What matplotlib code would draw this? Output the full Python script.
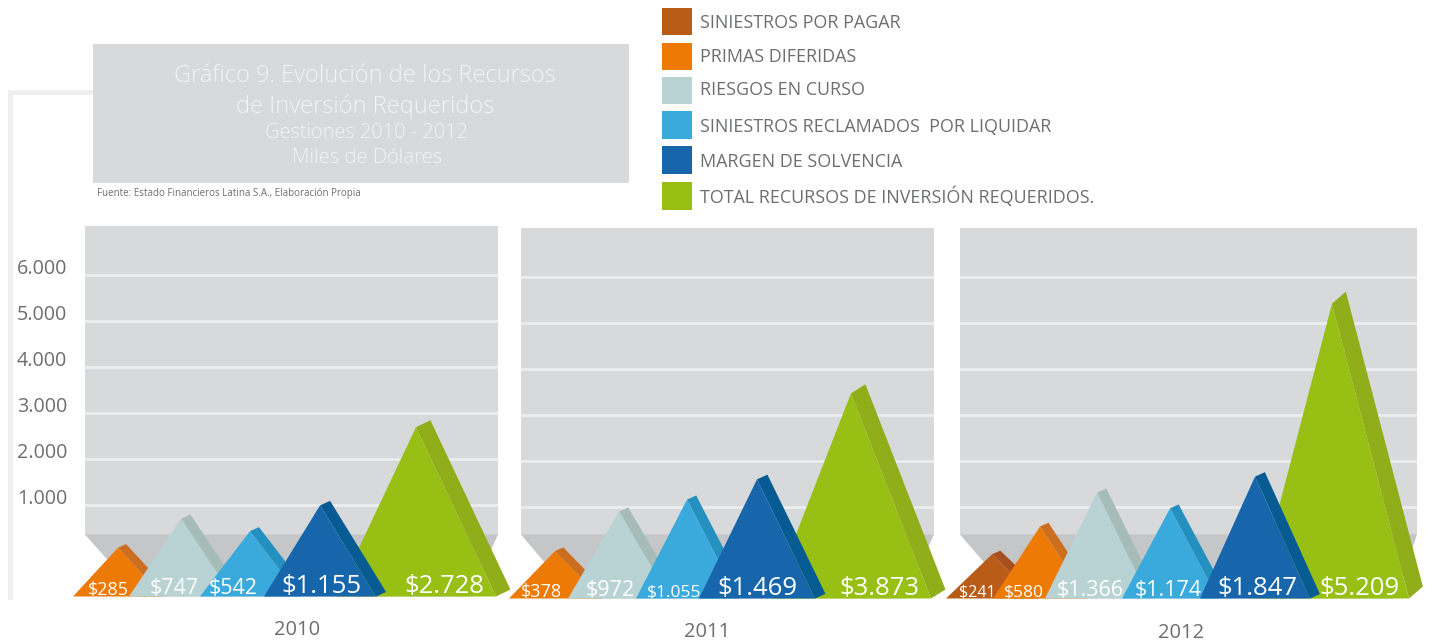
import matplotlib
matplotlib.use("Agg")
import matplotlib.pyplot as plt
from matplotlib.patches import Polygon, Rectangle

plt.rcParams['font.family'] = ['Open Sans', 'DejaVu Sans']

W, H = 1429, 644

# ── DATOS ─────────────────────────────────────────────────────────────
YEARS = ["2010", "2011", "2012"]
SERIES = ["SINIESTROS POR PAGAR", "PRIMAS DIFERIDAS", "RIESGOS EN CURSO",
          "SINIESTROS RECLAMADOS  POR LIQUIDAR", "MARGEN DE SOLVENCIA",
          "TOTAL RECURSOS DE INVERSIÓN REQUERIDOS."]
AXIS_TICKS = [1000, 2000, 3000, 4000, 5000, 6000]
AXIS_LABELS = ["1.000", "2.000", "3.000", "4.000", "5.000", "6.000"]

# serie de cada pico, etiqueta y altura leida sobre la escala del eje
SERIE_2010 = [1, 2, 3, 4, 5]
LABELS_2010 = ["$285", "$747", "$542", "$1.155", "$2.728"]
PEAKS_2010 = [60, 690, 420, 980, 2680]
SERIE_2011 = [1, 2, 3, 4, 5]
LABELS_2011 = ["$378", "$972", "$1.055", "$1.469", "$3.873"]
PEAKS_2011 = [30, 890, 1150, 1590, 3460]
SERIE_2012 = [0, 1, 2, 3, 4, 5]
LABELS_2012 = ["$241", "$580", "$1.366", "$1.174", "$1.847", "$5.209"]
PEAKS_2012 = [-40, 565, 1300, 960, 1650, 5410]

# ── ESTILO Y POSICIONES (pixeles) ─────────────────────────────────────
FRONT = ["#b85c17", "#ec7a05", "#b9d3d4", "#3aa9dc", "#1766ac", "#97bf14"]
SIDE = ["#a64f1f", "#cc6e20", "#a5bcb9", "#2390bf", "#065b92", "#90ad1a"]
WALL = "#d8d9db"
FLOOR = "#c5c6c8"
GRID = "#eceded"
GREY_TEXT = "#6d6e70"
TITLE_COLOR = "#f3f3f4"
PX = 0.046  # pixeles por unidad del eje

PANELS = [
    dict(box=(85, 498, 226), y0=550.5, floor=(140, 470), year_xy=(297, 630), total_dy=7,
         series=SERIE_2010, labels=LABELS_2010, peaks=PEAKS_2010,
         apex=[118, 181, 250, 320, 416], half=[45, 52, 50, 56, 80],
         text_x=[108, 174, 233, 321, 444], sizes=[13, 15.5, 15.5, 18.5, 18.5]),
    dict(box=(521, 934, 228), y0=552.5, floor=(575, 905), year_xy=(707, 632), total_dy=9,
         series=SERIE_2011, labels=LABELS_2011, peaks=PEAKS_2011,
         apex=[555, 619, 687, 757, 851], half=[46, 51, 51, 58, 80],
         text_x=[541, 610, 674, 757, 879], sizes=[13, 15.5, 12.5, 18.5, 18.5]),
    dict(box=(960, 1417, 228), y0=552.5, floor=(1015, 1395), year_xy=(1181, 633), total_dy=12,
         series=SERIE_2012, labels=LABELS_2012, peaks=PEAKS_2012,
         apex=[992, 1040, 1097, 1170, 1255, 1332], half=[46, 47, 52, 48, 55, 77],
         text_x=[977, 1024, 1090, 1168, 1257, 1359], sizes=[11.5, 12.5, 15.5, 15.5, 18.5, 18.5]),
]
WALL_BOTTOM = 534.5
BASE = -1000

LEGEND_BOX = [(8, 35), (43, 70), (77, 104), (111, 139), (146, 174), (182, 210)]
LEGEND_TEXT_Y = [23, 57, 90, 127, 162, 197]

fig = plt.figure(figsize=(W / 100, H / 100), dpi=100, facecolor="white")

# ── CAPA DE FONDO: marco, titulo y leyenda ────────────────────────────
bg = fig.add_axes([0, 0, 1, 1])
bg.set_xlim(0, W)
bg.set_ylim(H, 0)
bg.axis("off")

bg.add_patch(Rectangle((8, 90), 5, 510, color="#efefef", lw=0))
bg.add_patch(Rectangle((8, 90), 87, 5, color="#efefef", lw=0))
bg.add_patch(Rectangle((93, 44), 536, 139, color=WALL, lw=0))

bg.text(365, 76, "Gráfico 9. Evolución de los Recursos", color=TITLE_COLOR, fontsize=17, ha="center", va="center", fontweight="light")
bg.text(365, 107, "de Inversión Requeridos", color=TITLE_COLOR, fontsize=17, ha="center", va="center", fontweight="light")
bg.text(367, 133, "Gestiones 2010 - 2012", color=TITLE_COLOR, fontsize=14.4, ha="center", va="center", fontweight="light")
bg.text(367, 158, "Miles de Dólares", color=TITLE_COLOR, fontsize=14.6, ha="center", va="center", fontweight="light")
bg.text(97, 193, "Fuente: Estado Financieros Latina S.A., Elaboración Propia", color=GREY_TEXT, fontsize=7.05, va="center")

for name, color, (y1, y2), ty in zip(SERIES, FRONT, LEGEND_BOX, LEGEND_TEXT_Y):
    bg.add_patch(Rectangle((662, y1), 30, y2 - y1, color=color, lw=0))
    bg.text(700, ty, name, color=GREY_TEXT, fontsize=12.9, va="center")

# ── PANELES ───────────────────────────────────────────────────────────
for n, p in enumerate(PANELS):
    left, right, top = p["box"]
    y0 = p["y0"]
    ax = fig.add_axes([left / W, 1 - WALL_BOTTOM / H, (right - left) / W, (WALL_BOTTOM - top) / H])
    ax.set_facecolor(WALL)
    ax.set_xlim(left, right)
    ax.set_ylim((y0 - WALL_BOTTOM) / PX, (y0 - top) / PX)
    for s in ax.spines.values():
        s.set_visible(False)
    ax.tick_params(left=False, bottom=False, labelleft=False, labelbottom=False)
    ax.set_yticks(AXIS_TICKS)
    ax.grid(axis="y", color=GRID, lw=2)
    ax.set_axisbelow(True)

    # suelo
    ax.add_patch(Polygon([(left, ax.get_ylim()[0]), (right, ax.get_ylim()[0]),
                          (p["floor"][1], BASE), (p["floor"][0], BASE)],
                         color=FLOOR, lw=0, clip_on=False, zorder=1))

    # el total va detras de los demas, el resto de izquierda a derecha
    order = [len(p["series"]) - 1] + list(range(len(p["series"]) - 1))
    for z, i in enumerate(order):
        cx, hw, peak = p["apex"][i], p["half"][i], p["peaks"][i]
        s = p["series"][i]
        dx = 0.18 * hw
        dy = (p["total_dy"] if s == 5 else 0.45 * dx) / PX
        ax.add_patch(Polygon([(cx, peak), (cx + dx, peak + dy), (cx + hw + dx, BASE + dy), (cx + hw, BASE)],
                             color=SIDE[s], lw=0, clip_on=False, zorder=2 + z))
        ax.add_patch(Polygon([(cx - hw, BASE), (cx, peak), (cx + hw, BASE)],
                             color=FRONT[s], lw=0, clip_on=False, zorder=2 + z))
    for i, lab in enumerate(p["labels"]):
        ax.annotate(lab, (p["text_x"][i], BASE), xytext=(0, -1.5), textcoords="offset points",
                    color="white", fontsize=p["sizes"][i], ha="center", va="bottom",
                    annotation_clip=False, zorder=20)

    if n == 0:
        for t, lab in zip(AXIS_TICKS, AXIS_LABELS):
            ax.annotate(lab, (left, t), xytext=(-68 * 0.72, 3.8), textcoords="offset points",
                        color=GREY_TEXT, fontsize=14.2, va="center", annotation_clip=False)

    bg.text(p["year_xy"][0], p["year_xy"][1], YEARS[n], color=GREY_TEXT, fontsize=14.5, ha="center", va="center")

fig.savefig("out.png", dpi=100)
